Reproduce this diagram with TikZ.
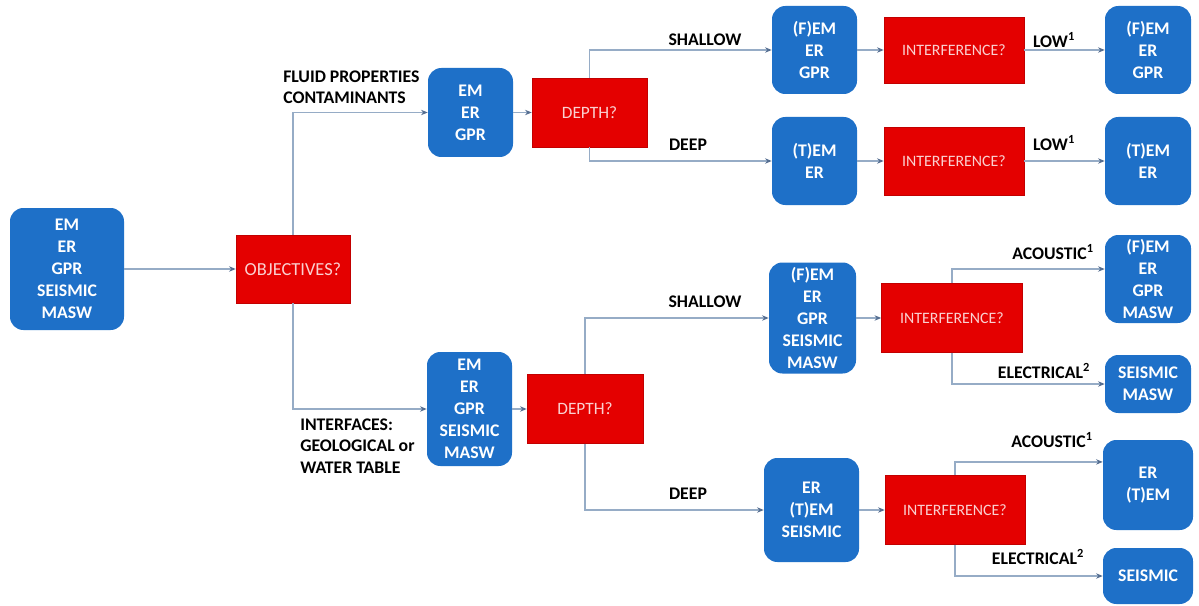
\documentclass[tikz,border=0pt]{standalone}
\usepackage{fontspec}
\setmainfont{Carlito}
\usetikzlibrary{arrows.meta}
\definecolor{boxblue}{RGB}{30,112,200}
\definecolor{boxred}{RGB}{228,0,0}
\definecolor{redtext}{RGB}{250,208,208}
\definecolor{connc}{RGB}{150,172,198}
\definecolor{tipc}{RGB}{85,110,145}
\begin{document}
\begin{tikzpicture}[x=0.75pt,y=-0.75pt,
  sz/.style 2 args={minimum width={#1*0.75pt},minimum height={#2*0.75pt}},
  bluebox/.style={fill=boxblue, rounded corners=10pt, text=white, font=\bfseries\fontsize{13.3}{16.5}\selectfont, align=center, inner sep=0pt},
  redbox/.style={fill=boxred, draw=boxred!85!black, line width=0.4pt, text=redtext, font=\fontsize{11.9}{15}\selectfont, inner sep=0pt},
  lbl/.style={font=\bfseries\fontsize{13.3}{16}\selectfont, text=black, inner sep=0pt, align=left},
  link/.style={draw=connc, line width=0.9pt, -{Stealth[length=5pt,width=4pt,color=tipc]}}]
\fill[white] (0,0) rectangle (1199,606);
\useasboundingbox (0,0) rectangle (1199,606);

% main nodes
\node[bluebox, sz={114}{122}] (src) at (67,269) {EM\\ER\\GPR\\SEISMIC\\MASW};
\node[redbox, sz={114}{68}, font=\fontsize{13.8}{16}\selectfont] (obj) at (293,269) {OBJECTIVES?};

% upper branch
\node[bluebox, sz={85}{89}] (A1) at (470.5,112.5) {EM\\ER\\GPR};
\node[redbox, sz={115}{69}, font=\fontsize{13}{16}\selectfont] (D1) at (589.5,112.5) {DEPTH?};
\node[bluebox, sz={85}{88}] (B1) at (814.5,50) {(F)EM\\ER\\GPR};
\node[redbox, sz={140}{66}] (I1) at (954,50) {INTERFERENCE?};
\node[bluebox, sz={86}{88}] (C1) at (1148,50) {(F)EM\\ER\\GPR};
\node[bluebox, sz={85}{88}] (B2) at (814.5,161) {(T)EM\\ER};
\node[redbox, sz={140}{68}] (I2) at (954,161) {INTERFERENCE?};
\node[bluebox, sz={86}{88}] (C2) at (1148,161) {(T)EM\\ER};

% lower branch
\node[bluebox, sz={85}{114}] (A2) at (469.5,409) {EM\\ER\\GPR\\SEISMIC\\MASW};
\node[redbox, sz={116}{69}, font=\fontsize{13}{16}\selectfont] (D2) at (585,409) {DEPTH?};
\node[bluebox, sz={87}{111}] (B3) at (812.5,318) {(F)EM\\ER\\GPR\\SEISMIC\\MASW};
\node[redbox, sz={141}{69}] (I3) at (952,318) {INTERFERENCE?};
\node[bluebox, sz={86}{88}] (C3) at (1148,279) {(F)EM\\ER\\GPR\\MASW};
\node[bluebox, sz={86}{58}] (C4) at (1148,384) {SEISMIC\\MASW};
\node[bluebox, sz={95}{104}] (B4) at (811.5,510) {ER\\(T)EM\\SEISMIC};
\node[redbox, sz={140}{69}] (I4) at (955,510) {INTERFERENCE?};
\node[bluebox, sz={90}{90}] (C5) at (1148,485) {ER\\(T)EM};
\node[bluebox, sz={90}{56}] (C6) at (1148,576) {SEISMIC};

% labels
\node[lbl, anchor=west] (lfluid) at (283,87) {FLUID PROPERTIES\\CONTAMINANTS};
\node[lbl, anchor=west, font=\bfseries\fontsize{13.3}{16.2}\selectfont] (linter) at (300,446) {INTERFACES:\\GEOLOGICAL or\\WATER TABLE};
\node[lbl] (lsh1) at (705,40) {SHALLOW};
\node[lbl] (ldp1) at (688,145) {DEEP};
\node[lbl] (llow1) at (1054,40) {LOW\textsuperscript{1}};
\node[lbl] (llow2) at (1054,143) {LOW\textsuperscript{1}};
\node[lbl] (lsh2) at (705,302) {SHALLOW};
\node[lbl] (ldp2) at (688,494) {DEEP};
\node[lbl] (lac1) at (1053,252) {ACOUSTIC\textsuperscript{1}};
\node[lbl] (lel1) at (1044,371) {ELECTRICAL\textsuperscript{2}};
\node[lbl] (lac2) at (1052,440) {ACOUSTIC\textsuperscript{1}};
\node[lbl] (lel2) at (1038,557) {ELECTRICAL\textsuperscript{2}};

% connectors
\draw[link] (src) -- (obj);
\draw[link] (obj.north) |- (A1.west);
\draw[link] (obj.south) |- (A2.west);
\draw[link] (A1) -- (D1);
\draw[link] (D1.north) |- (B1.west);
\draw[link] (D1.south) |- (B2.west);
\draw[link] (B1) -- (I1);
\draw[link] (I1) -- (C1);
\draw[link] (B2) -- (I2);
\draw[link] (I2) -- (C2);
\draw[link] (A2) -- (D2);
\draw[link] (D2.north) |- (B3.west);
\draw[link] (D2.south) |- (B4.west);
\draw[link] (B3) -- (I3);
\draw[link] (I3.north) |- (C3.167);
\draw[link] (I3.south) |- (C4.west);
\draw[link] (B4) -- (I4);
\draw[link] (I4.north) |- (C5.153);
\draw[link] (I4.south) |- (C6.west);
\end{tikzpicture}
\end{document}
